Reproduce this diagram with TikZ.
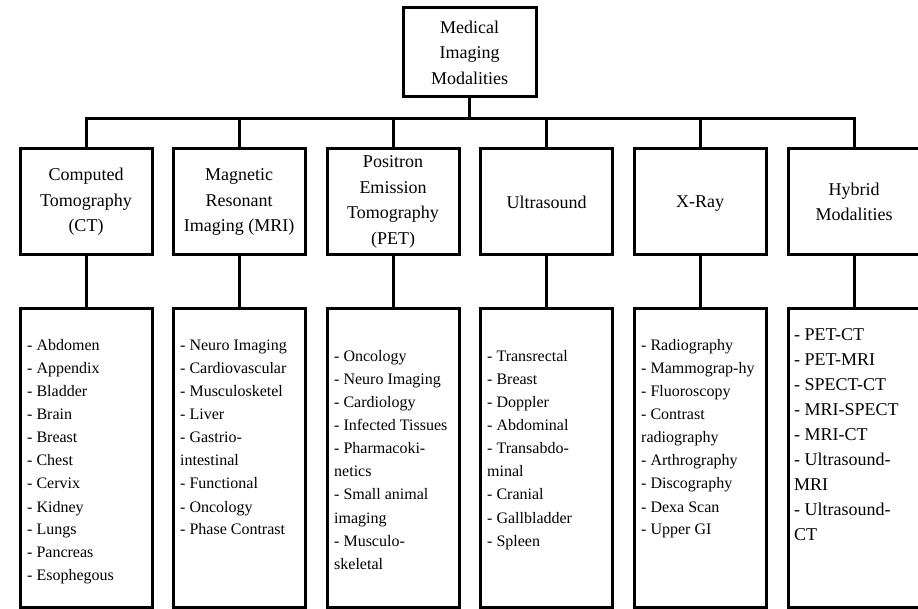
\documentclass[tikz,border=0pt]{standalone}
\usepackage{fontspec}
\setmainfont{Liberation Serif}
\usetikzlibrary{calc}

\begin{document}
\begin{tikzpicture}[x=1pt,y=-1pt,
  box/.style={draw, line width=3pt, inner sep=0pt, align=center,
    minimum width=132pt, font=\fontsize{18}{25.5}\selectfont},
  headbox/.style={box, minimum height=106pt},
  listbox/.style={box, minimum height=298pt},
  wire/.style={line width=3pt},
  listtext/.style={anchor=base west, inner sep=0pt, font=\fontsize{16}{23}\selectfont},
  bigtext/.style={anchor=base west, inner sep=0pt, font=\fontsize{18}{25}\selectfont}
]
\clip (0,0) rectangle (918,609);
\fill[white] (0,0) rectangle (918,609);

% root
\node[box, minimum width=133pt, minimum height=89pt] (root) at (469.5,52.5)
  {Medical\\Imaging\\Modalities};

% modalities
\node[headbox] (ct)  at (86,202)    {Computed\\Tomography\\(CT)};
\node[headbox] (mri) at (239,202)   {Magnetic\\Resonant\\Imaging (MRI)};
\node[headbox] (pet) at (393,202)   {Positron\\Emission\\Tomography\\(PET)};
\node[headbox] (us)  at (546.5,202) {Ultrasound};
\node[headbox, text depth=0pt] (xr)  at (700,202) {X-Ray};
\node[headbox] (hy)  at (854,202)   {Hybrid\\Modalities};

% application lists
\node[listbox] (ctl)  at (86,458)    {};
\node[listbox] (mril) at (239,458)   {};
\node[listbox] (petl) at (393,458)   {};
\node[listbox] (usl)  at (546.5,458) {};
\node[listbox] (xrl)  at (700,458)   {};
\node[listbox] (hyl)  at (854,458)   {};

\node[listtext] (ctt) at (27,351) {\parbox[t]{140pt}{\raggedright
  - Abdomen\\- Appendix\\- Bladder\\- Brain\\- Breast\\- Chest\\- Cervix\\- Kidney\\- Lungs\\- Pancreas\\- Esophegous}};
\node[listtext] (mrit) at (180,351) {\parbox[t]{140pt}{\raggedright
  - Neuro Imaging\\- Cardiovascular\\- Musculosketel\\- Liver\\- Gastrio-\\intestinal\\- Functional\\- Oncology\\- Phase Contrast}};
\node[listtext] (pett) at (334,362) {\parbox[t]{140pt}{\raggedright
  - Oncology\\- Neuro Imaging\\- Cardiology\\- Infected Tissues\\- Pharmacoki-\\netics\\- Small animal\\imaging\\- Musculo-\\skeletal}};
\node[listtext] (ust) at (487,362) {\parbox[t]{140pt}{\raggedright
  - Transrectal\\- Breast\\- Doppler\\- Abdominal\\- Transabdo-\\minal\\- Cranial\\- Gallbladder\\- Spleen}};
\node[listtext] (xrt) at (641,351) {\parbox[t]{140pt}{\raggedright
  - Radiography\\- Mammograp-hy\\- Fluoroscopy\\- Contrast\\radiography\\- Arthrography\\- Discography\\- Dexa Scan\\- Upper GI}};
\node[bigtext] (hyt) at (794,340.5) {\parbox[t]{140pt}{\raggedright
  - PET-CT\\- PET-MRI\\- SPECT-CT\\- MRI-SPECT\\- MRI-CT\\- Ultrasound-\\MRI\\- Ultrasound-\\CT}};

% tree connectors
\coordinate (bus) at (0,119);
\draw[wire] (root.south) -- (root.south |- bus);
\draw[wire] (ct.north) |- (bus -| hy.north) -- (hy.north);
\foreach \c in {mri,pet,us,xr}
  \draw[wire] (\c.north |- bus) -- (\c.north);
\foreach \a/\b in {ct/ctl,mri/mril,pet/petl,us/usl,xr/xrl,hy/hyl}
  \draw[wire] (\a.south) -- (\b.north);
\end{tikzpicture}
\end{document}
